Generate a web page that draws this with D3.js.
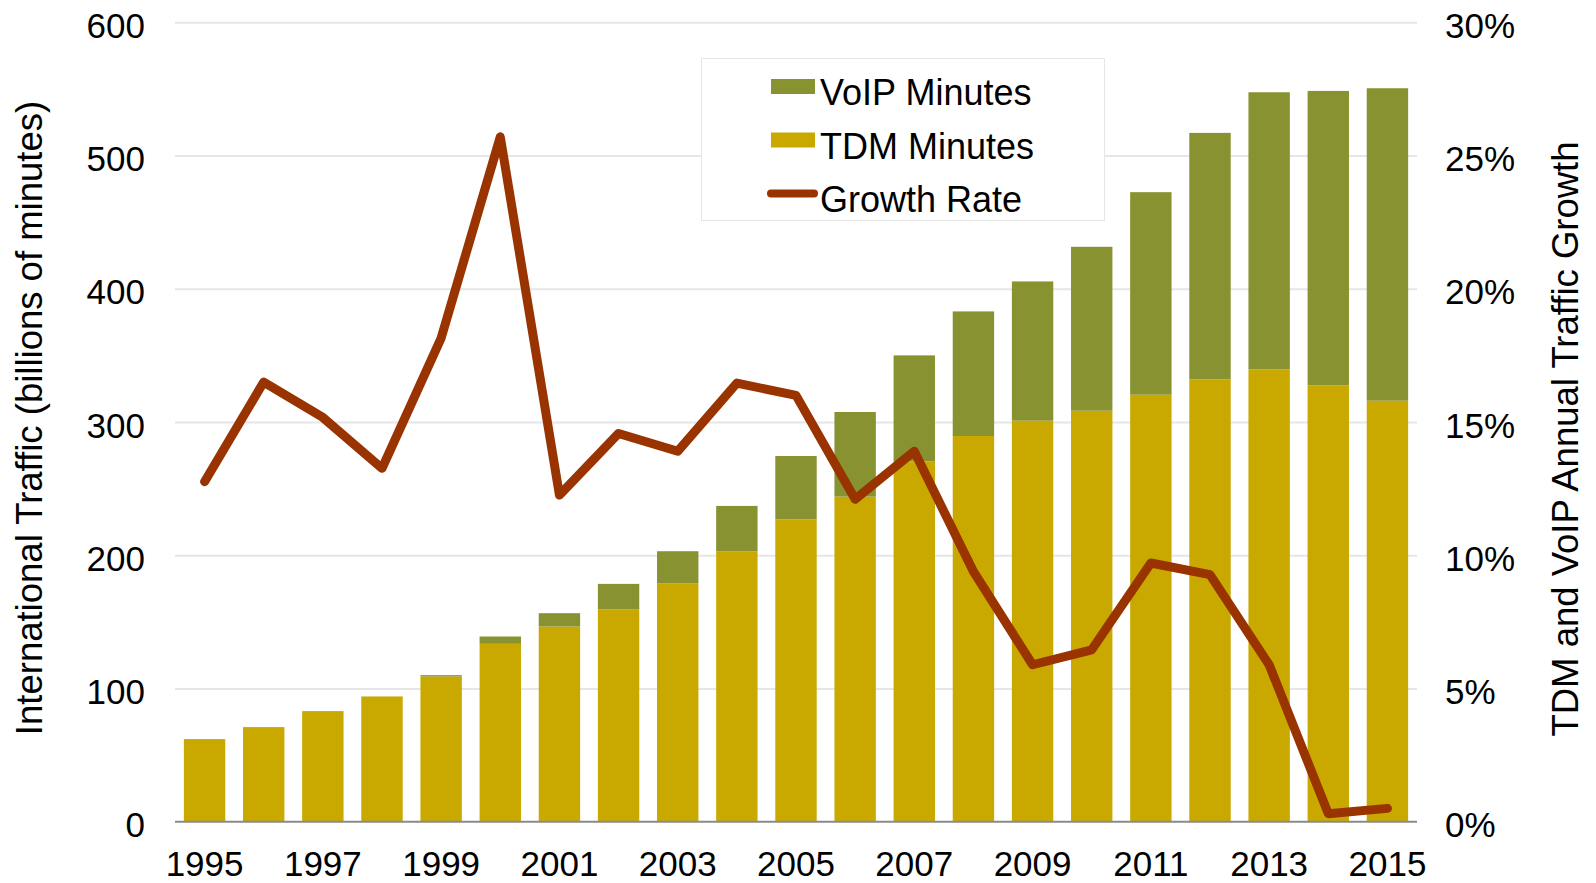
<!DOCTYPE html>
<html>
<head>
<meta charset="utf-8">
<script src="https://cdn.jsdelivr.net/npm/d3@7"></script>
<style>
	body { margin: 0; background: #fff; }
	svg { display: block; font-family: "Liberation Sans", Arial, Helvetica, sans-serif; }
	.tick text { font-size: 35px; fill: #000; }
</style>
</head>
<body>
<svg></svg>
<script>
// data.........................................................................

var years = d3.range(1995, 2016),
	tdmMinutes = [62, 71, 83, 94, 109, 133.5, 146.5, 159.5, 179, 203, 227,
		244, 270.5, 289.5, 301, 308.5, 320.5, 332, 339.5, 327.5, 316],
	voipMinutes = [0, 0, 0, 0, 1, 5.5, 10, 19, 24, 34, 47.5,
		63.5, 79.5, 93.5, 104.5, 123, 152, 185, 208, 221, 234.5],
	growthRate = [12.76, 16.5, 15.17, 13.26, 18.15, 25.7, 12.26, 14.57, 13.9,
		16.46, 16.0, 12.1, 13.9, 9.39, 5.89, 6.45, 9.71, 9.27, 5.89, 0.3, 0.5],
	leftTicks = [0, 100, 200, 300, 400, 500, 600],
	rightTicks = [0, 5, 10, 15, 20, 25, 30],
	yearLabels = years.filter(function(d) { return d % 2 == 1; });

var colors = { voip: "#889231", tdm: "#c9a900", growth: "#993300" };

// layout.......................................................................

var width = 1596, height = 883,
	plotLeft = 175, plotRight = 1417, plotTop = 22.3, plotBottom = 821.7;

var svg = d3.select("svg")
	.attr("width", width)
	.attr("height", height);

var x = d3.scaleBand()
	.domain(years)
	.range([plotLeft, plotRight])
	.paddingInner(0.3)
	.paddingOuter(0.15);

var y = d3.scaleLinear().domain([0, 600]).range([plotBottom, plotTop]),
	y2 = d3.scaleLinear().domain([0, 30]).range([plotBottom, plotTop]);

// gridlines
svg.append("g")
	.attr("transform", "translate(" + plotLeft + ",0)")
	.call(d3.axisLeft(y).tickValues(leftTicks.slice(1))
		.tickSize(-(plotRight - plotLeft)).tickFormat(""))
	.call(function(g) { g.select(".domain").remove(); })
	.selectAll("line")
		.attr("stroke", "#e6e6e6")
		.attr("stroke-width", 2);

// stacked bars
var stack = d3.stack().keys(["tdm", "voip"])(years.map(function(d, i) {
	return { year: d, tdm: tdmMinutes[i], voip: voipMinutes[i] };
}));

svg.append("g").selectAll("g")
	.data(stack)
	.enter().append("g")
		.attr("fill", function(s) { return colors[s.key]; })
	.selectAll("rect")
	.data(function(s) { return s; })
	.enter().append("rect")
		.attr("x", function(d) { return x(d.data.year); })
		.attr("width", x.bandwidth())
		.attr("y", function(d) { return y(d[1]); })
		.attr("height", function(d) { return y(d[0]) - y(d[1]); });

// baseline
svg.append("line")
	.attr("x1", plotLeft).attr("x2", plotRight)
	.attr("y1", plotBottom).attr("y2", plotBottom)
	.attr("stroke", "#8a8a8a")
	.attr("stroke-width", 2);

// growth line
var line = d3.line()
	.x(function(d, i) { return x(years[i]) + x.bandwidth() / 2; })
	.y(function(d) { return y2(d); });

svg.append("path")
	.datum(growthRate)
	.attr("d", line)
	.attr("fill", "none")
	.attr("stroke", colors.growth)
	.attr("stroke-width", 9)
	.attr("stroke-linejoin", "round")
	.attr("stroke-linecap", "round");

// axes.........................................................................

svg.append("g")
	.attr("transform", "translate(" + plotLeft + ",0)")
	.call(d3.axisLeft(y).tickValues(leftTicks).tickSize(0).tickPadding(30))
	.call(function(g) { g.select(".domain").remove(); })
	.selectAll("text").attr("dy", "0.43em");

svg.append("g")
	.attr("transform", "translate(" + plotRight + ",0)")
	.call(d3.axisRight(y2).tickValues(rightTicks).tickSize(0).tickPadding(28)
		.tickFormat(function(d) { return d + "%"; }))
	.call(function(g) { g.select(".domain").remove(); })
	.selectAll("text").attr("dy", "0.43em");

svg.append("g")
	.attr("transform", "translate(0," + plotBottom + ")")
	.call(d3.axisBottom(x).tickValues(yearLabels).tickSize(0).tickPadding(29.5))
	.call(function(g) { g.select(".domain").remove(); });

svg.append("text")
	.attr("transform", "translate(29.5,418) rotate(-90)")
	.attr("text-anchor", "middle")
	.attr("dy", "0.35em")
	.style("font-size", "36.5px")
	.text("International Traffic (billions of minutes)");

svg.append("text")
	.attr("transform", "translate(1565.5,439) rotate(-90)")
	.attr("text-anchor", "middle")
	.attr("dy", "0.35em")
	.style("font-size", "36.5px")
	.text("TDM and VoIP Annual Traffic Growth");

// legend.......................................................................

var legend = svg.append("g");

legend.append("rect")
	.attr("x", 701.5).attr("y", 58.5)
	.attr("width", 403).attr("height", 162)
	.attr("fill", "#fff")
	.attr("stroke", "#e6e6e6");

var items = [
	{ label: "VoIP Minutes", color: colors.voip, type: "bar" },
	{ label: "TDM Minutes", color: colors.tdm, type: "bar" },
	{ label: "Growth Rate", color: colors.growth, type: "line" }
];

items.forEach(function(item, i) {
	var cy = 86.5 + i * 53.5;
	if(item.type == "bar")
		legend.append("rect")
			.attr("x", 771).attr("y", cy - 7.5)
			.attr("width", 44).attr("height", 15)
			.attr("fill", item.color);
	else
		legend.append("line")
			.attr("x1", 771).attr("x2", 814)
			.attr("y1", cy).attr("y2", cy)
			.attr("stroke", item.color)
			.attr("stroke-width", 8)
			.attr("stroke-linecap", "round");
	legend.append("text")
		.attr("x", 820)
		.attr("y", cy + 18.5)
		.style("font-size", "36px")
		.text(item.label);
});
</script>
</body>
</html>
